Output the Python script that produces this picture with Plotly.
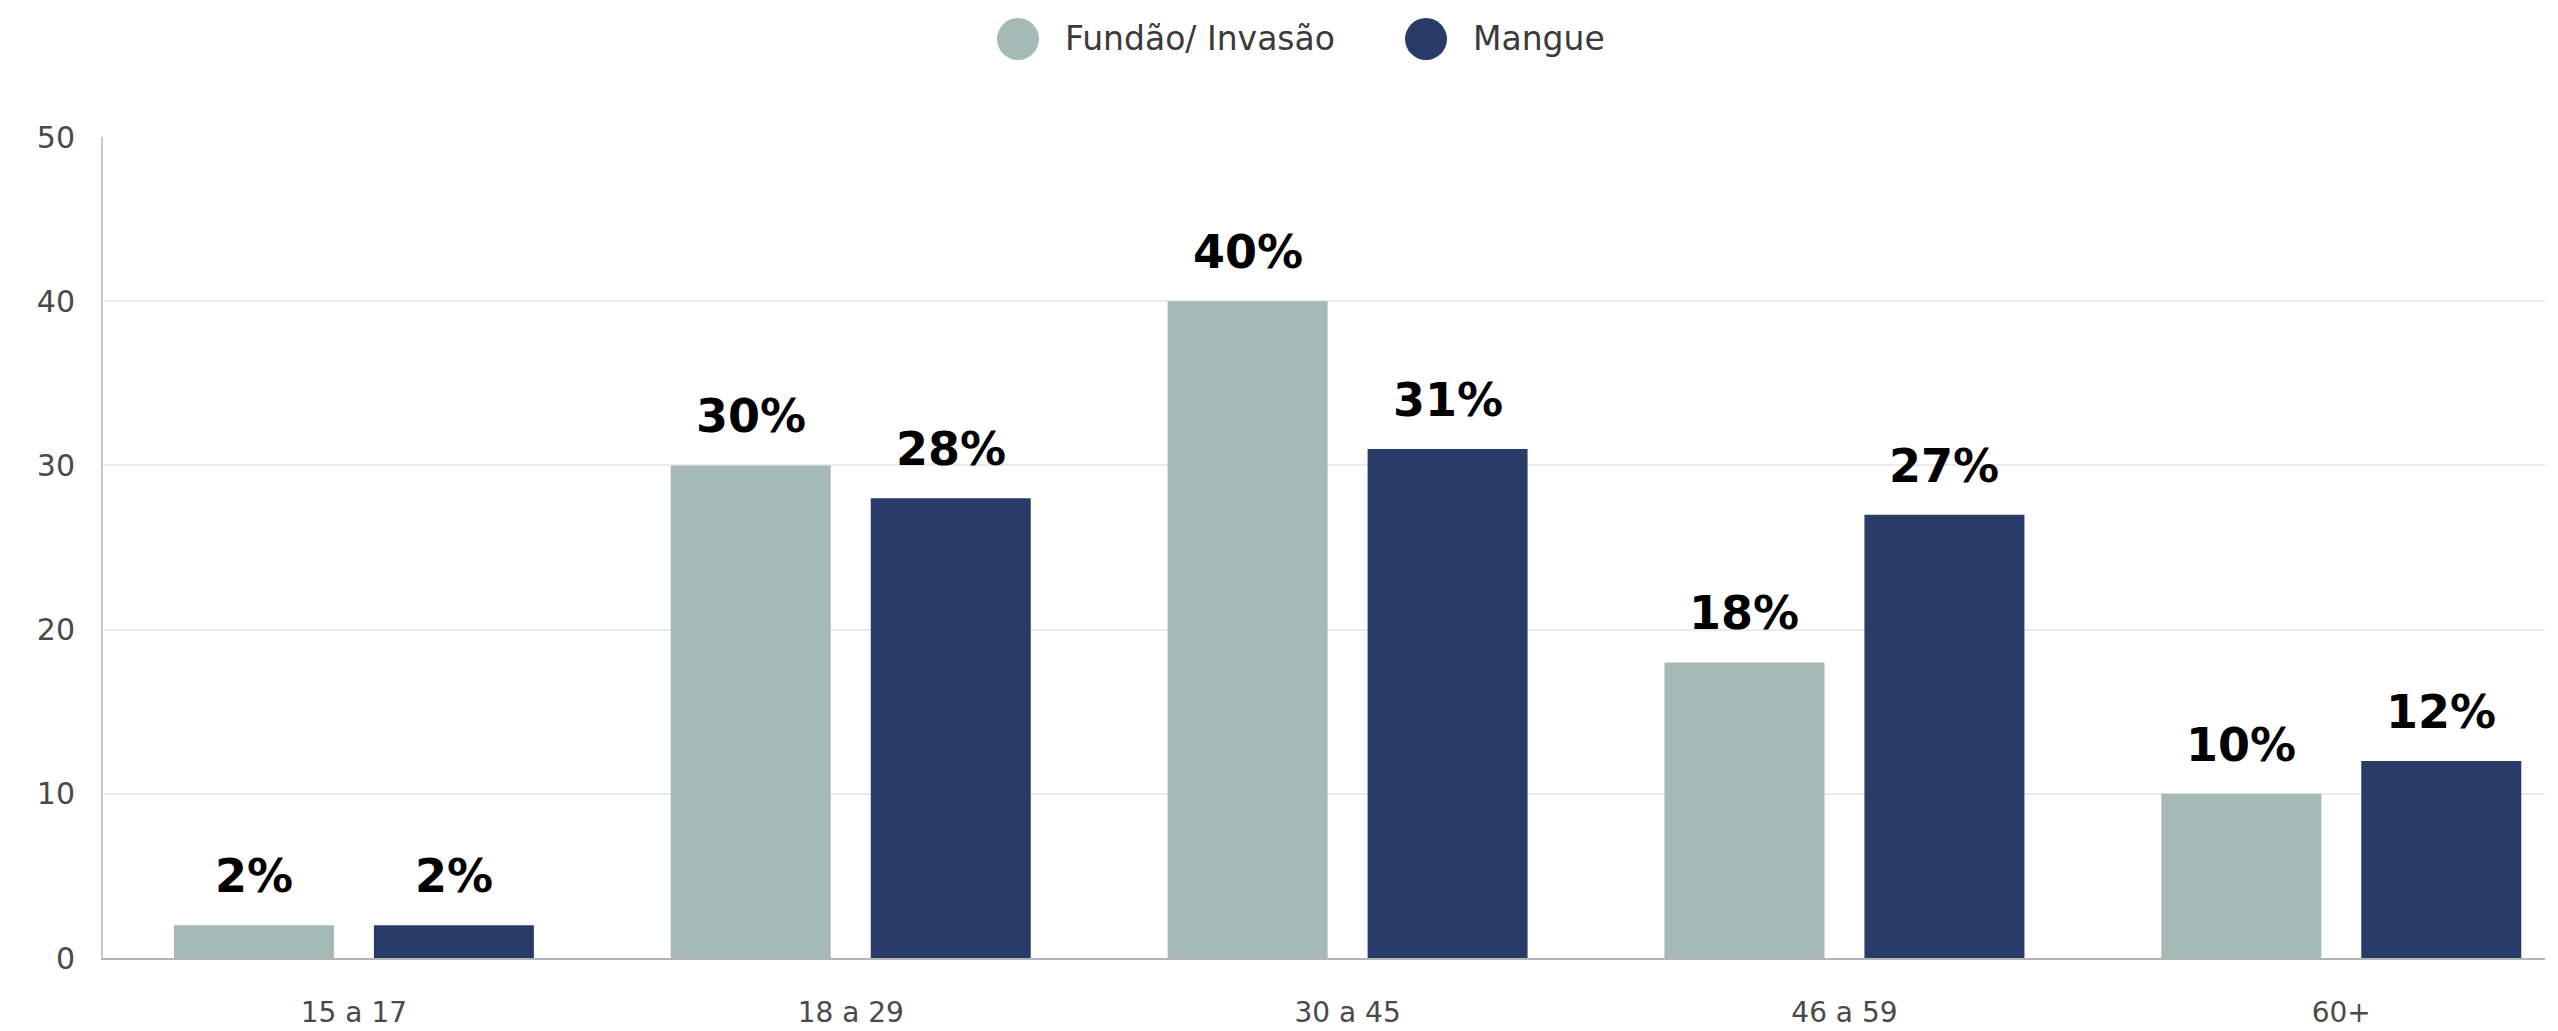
import plotly.graph_objects as go

categories = ["15 a 17", "18 a 29", "30 a 45", "46 a 59", "60+"]
series_names = ["Fundão/ Invasão", "Mangue"]
fundao = [2, 30, 40, 18, 10]
mangue = [2, 28, 31, 27, 12]
y_ticks = [0, 10, 20, 30, 40, 50]

colors = ["#a5b9b5", "#293b69"]
W, H = 2558, 1031
L, R, T, B = 103, 13, 137, 73
BARGAP = 0.195
GROUPGAP = 0.2

fig = go.Figure()
xs = list(range(len(categories)))
for name, vals, c in zip(series_names, [fundao, mangue], colors):
    fig.add_trace(go.Bar(x=xs, y=vals, name=name, marker=dict(color=c, line=dict(width=0)),
                         showlegend=False, hoverinfo="y"))

# value labels
off = (1 - BARGAP) / 4
for k, vals in enumerate([fundao, mangue]):
    for i, v in enumerate(vals):
        fig.add_annotation(x=i + (-off if k == 0 else off), y=v, xref="x", yref="y",
                           text=f"{v}%", showarrow=False, yanchor="bottom", yshift=20,
                           font=dict(family="DejaVu Sans", size=46, color="#000000", weight="bold"))

# manual legend
plot_w = W - L - R
plot_h = H - T - B
def px_to_paper_x(px):
    return (px - L) / plot_w
def py_to_paper_y(py):
    return (H - B - py) / plot_h

legend_items = [(1018, 1063), (1426, 1471)]
ly = 39
for (cx, tx), name, c in zip(legend_items, series_names, colors):
    fig.add_shape(type="circle", xref="paper", yref="paper", xsizemode="pixel", ysizemode="pixel",
                  xanchor=px_to_paper_x(cx), yanchor=py_to_paper_y(ly),
                  x0=-21, x1=21, y0=-21, y1=21, fillcolor=c, line=dict(width=0))
    fig.add_annotation(x=px_to_paper_x(tx), y=py_to_paper_y(ly), xref="paper", yref="paper",
                       text=name, showarrow=False, xanchor="left", yanchor="middle",
                       font=dict(family="DejaVu Sans", size=33, color="#3a3a3a"))

fig.update_layout(
    width=W, height=H,
    margin=dict(l=L, r=R, t=T, b=B, pad=0, autoexpand=False),
    paper_bgcolor="white", plot_bgcolor="white",
    barmode="group", bargap=BARGAP, bargroupgap=GROUPGAP,
    font=dict(family="DejaVu Sans", color="#444444"),
)
fig.update_xaxes(range=[-0.505, 4.41], tickvals=xs, ticktext=categories, automargin=False,
                 showline=True, linecolor="#b5b5b5", linewidth=2, showgrid=False,
                 ticks="", ticklabelstandoff=28,
                 tickfont=dict(family="DejaVu Sans", size=28, color="#4a4a4a"),
                 fixedrange=True)
fig.update_yaxes(range=[0, 50], tickvals=y_ticks, showline=True, linecolor="#c8c8c8", linewidth=2,
                 showgrid=True, gridcolor="#ebebeb", gridwidth=2, zeroline=False, automargin=False,
                 ticks="", ticklabelstandoff=20,
                 tickfont=dict(family="DejaVu Sans", size=30, color="#4a4a4a"),
                 fixedrange=True)

fig.write_html("out.html", config={"displayModeBar": False})
